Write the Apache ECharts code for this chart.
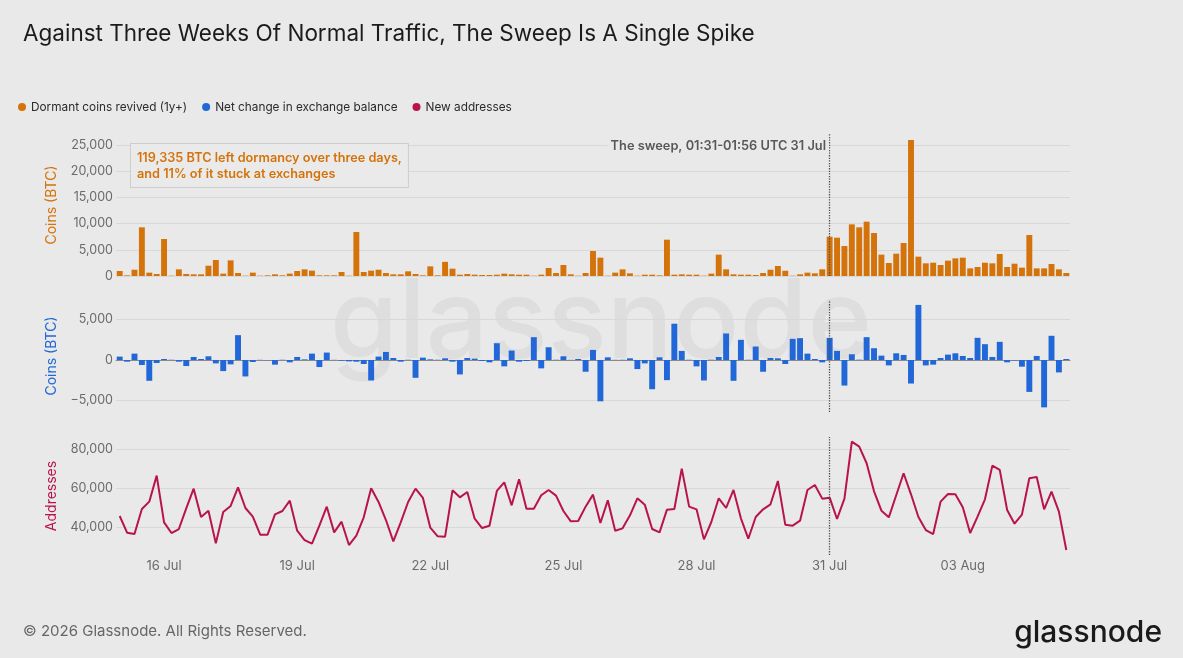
<!DOCTYPE html>
<html>
<head>
<meta charset="utf-8">
<title>Against Three Weeks Of Normal Traffic, The Sweep Is A Single Spike</title>
<script src="https://cdn.jsdelivr.net/npm/echarts@6/dist/echarts.min.js"></script>
<style>
    html, body { margin: 0; padding: 0; background: #e9e9e9; }
    #chart { width: 1183px; height: 658px; }
</style>
</head>
<body>
<div id="chart"></div>
<script>
    // 4-hour buckets, 15 Jul 00:00 UTC -> 05 Aug 08:00 UTC
    var dormant = [
        950, 130, 1200, 9290, 640, 380, 7060, 60, 1270, 380, 320, 320,
        1970, 3050, 450, 2990, 570, 60, 640, 60, 130, 320, 130, 450,
        950, 1270, 1020, 130, 130, 130, 760, 60, 8400, 760, 1020, 1200,
        570, 320, 320, 890, 380, 130, 1840, 130, 2700, 1400, 250, 380,
        250, 190, 190, 250, 450, 320, 250, 250, 60, 250, 1530, 570,
        2100, 320, 60, 570, 4770, 3500, 60, 640, 1270, 510, 60, 250,
        250, 130, 6930, 250, 320, 250, 250, 60, 450, 4070, 1270, 320,
        250, 250, 190, 570, 1200, 1910, 1000, 60, 320, 640, 510, 1270,
        7500, 7310, 5720, 9860, 9290, 10370, 8200, 4070, 2480, 4260, 6300, 25950,
        3690, 2420, 2540, 2100, 2930, 3370, 3500, 1460, 1720, 2540, 2420, 4200,
        1720, 2350, 1590, 7820, 1460, 1460, 2290, 1270, 570
    ];
    var netChange = [
        420, -210, 790, -625, -2580, -375, 125, 30, -210, -750, 375, 125,
        460, -420, -1375, -540, 3080, -2040, -250, 20, -20, -580, 30, -290,
        375, 80, 790, -875, 920, 20, -80, -170, -210, -500, -2540, 420,
        1000, 250, -210, 30, -2210, 290, 80, 30, 210, -210, -1790, 250,
        170, -125, -290, 2080, -790, 1170, -210, -125, 2830, -1040, 1580, 30,
        460, 20, 125, -1460, 1250, -5125, 330, 20, 30, 210, -1125, -420,
        -3625, 330, -2500, 4500, 1125, 30, -790, -2540, 40, 375, 3290, -2580,
        2500, 30, 1670, -1460, 250, 210, -500, 2625, 2710, 790, 125, -290,
        2750, 1125, -3170, 710, 40, 2830, 1460, 540, -670, 830, 625, -2920,
        6830, -670, -580, 250, 670, 830, 500, 250, 2750, 1960, 375, 2250,
        -290, -50, -830, -3960, 500, -5875, 3000, -1540, 125
    ];
    var newAddresses = [
        45660, 37080, 36390, 49270, 53040, 66440, 42400, 36900, 38960, 49610, 59740, 45140,
        48410, 31580, 47720, 50810, 60430, 49780, 45320, 36050, 36050, 46520, 48240, 53560,
        38100, 33300, 31410, 40680, 50470, 37250, 42740, 30720, 35530, 44970, 59910, 52870,
        43600, 32610, 42400, 52870, 59740, 54930, 39650, 35190, 35010, 58880, 55270, 58020,
        44290, 39480, 40680, 58540, 63000, 51150, 64550, 49440, 49440, 56310, 59050, 56130,
        48240, 42910, 43090, 50470, 56650, 42060, 53730, 38100, 39310, 46000, 54760, 51500,
        38960, 37250, 48920, 49270, 70040, 50470, 49100, 33640, 42570, 54760, 49780, 59050,
        44460, 33980, 45140, 49100, 51670, 63690, 41200, 40680, 43260, 59050, 61630, 54590,
        55100, 44120, 54590, 83950, 81370, 72790, 58370, 48410, 44970, 56310, 67640, 56820,
        45140, 38450, 36390, 53040, 57000, 56820, 50130, 36900, 45320, 54240, 71590, 69360,
        48760, 41710, 46350, 65060, 65750, 49100, 58200, 47890, 28150
    ];
    var tickLabels = ['16 Jul', '19 Jul', '22 Jul', '25 Jul', '28 Jul', '31 Jul', '03 Aug'];
    var sweepBucket = '31 Jul 00:00';

    var MONTHS = ['Jan', 'Feb', 'Mar', 'Apr', 'May', 'Jun', 'Jul', 'Aug', 'Sep', 'Oct', 'Nov', 'Dec'];
    function pad(n) { return n < 10 ? '0' + n : '' + n; }
    var categories = [];
    for (var i = 0; i < dormant.length; i++) {
        var d = new Date(Date.UTC(2025, 6, 15) + i * 4 * 3600 * 1000);
        categories.push(pad(d.getUTCDate()) + ' ' + MONTHS[d.getUTCMonth()] + ' ' + pad(d.getUTCHours()) + ':00');
    }

    var ORANGE = '#d5730b', BLUE = '#2167d8', CRIMSON = '#b8134c';
    var BG = '#e9e9e9';
    var FONT = 'Inter, "Noto Sans", sans-serif';

    function fmtNum(v) {
        var s = Math.abs(v).toString().replace(/\B(?=(\d{3})+(?!\d))/g, ',');
        return (v < 0 ? '\u2212' : '') + s;
    }

    function makeXAxis(idx, showLabels) {
        return {
            type: 'category',
            gridIndex: idx,
            data: categories,
            boundaryGap: true,
            axisLine: { show: idx === 1, onZero: true, lineStyle: { color: '#8a8a8a', width: 1 } },
            axisTick: { show: false },
            splitLine: { show: false },
            axisLabel: {
                show: showLabels,
                interval: function (index, value) {
                    return value.slice(7) === '00:00' && tickLabels.indexOf(value.slice(0, 6)) >= 0;
                },
                formatter: function (value) { return value.slice(0, 6); },
                color: '#6b6b6b',
                fontSize: 13,
                margin: 5
            }
        };
    }

    function makeYAxis(idx, name, color, min, max, step) {
        return {
            type: 'value',
            gridIndex: idx,
            min: min,
            max: max,
            minInterval: step,
            maxInterval: step,
            name: name,
            nameLocation: 'middle',
            nameGap: 57,
            nameTextStyle: { color: color, fontSize: 14 },
            axisLine: { show: false },
            axisTick: { show: false },
            axisLabel: {
                color: '#6b6b6b',
                fontSize: 12.5,
                margin: 3,
                showMinLabel: idx === 0,
                showMaxLabel: false,
                formatter: fmtNum
            },
            splitLine: {
                lineStyle: { color: '#d8d8d8', width: 1 },
                showMinLine: idx === 0,
                showMaxLine: false
            }
        };
    }

    var sweepLine = {
        silent: true,
        symbol: ['none', 'none'],
        label: { show: false },
        lineStyle: { color: '#4f4f4f', type: 'dotted', width: 1.3 },
        data: [{ xAxis: sweepBucket }]
    };

    var option = {
        backgroundColor: BG,
        animation: false,
        textStyle: { fontFamily: FONT },
        title: {
            text: 'Against Three Weeks Of Normal Traffic, The Sweep Is A Single Spike',
            left: 18,
            top: 18,
            textStyle: { fontSize: 22.5, fontWeight: 'normal', color: '#1b1b1b', fontFamily: FONT }
        },
        legend: {
            left: 13,
            top: 96,
            icon: 'circle',
            itemWidth: 8,
            itemHeight: 8,
            itemGap: 15,
            textStyle: { fontSize: 11.8, color: '#2b2b2b' },
            data: ['Dormant coins revived (1y+)', 'Net change in exchange balance', 'New addresses']
        },
        grid: [
            { left: 116, right: 113, top: 134, height: 142 },
            { left: 116, right: 113, top: 300, height: 112 },
            { left: 116, right: 113, top: 437, height: 118 }
        ],
        xAxis: [makeXAxis(0, false), makeXAxis(1, false), makeXAxis(2, true)],
        yAxis: [
            makeYAxis(0, 'Coins (BTC)', ORANGE, 0, 27100, 5000),
            makeYAxis(1, 'Coins (BTC)', BLUE, -6450, 7440, 5000),
            makeYAxis(2, 'Addresses', CRIMSON, 25600, 86300, 20000)
        ],
        series: [
            {
                name: 'Dormant coins revived (1y+)',
                type: 'bar',
                xAxisIndex: 0,
                yAxisIndex: 0,
                data: dormant,
                barWidth: '80%',
                itemStyle: { color: ORANGE },
                markLine: sweepLine
            },
            {
                name: 'Net change in exchange balance',
                type: 'bar',
                xAxisIndex: 1,
                yAxisIndex: 1,
                data: netChange,
                barWidth: '80%',
                itemStyle: { color: BLUE },
                markLine: sweepLine
            },
            {
                name: 'New addresses',
                type: 'line',
                xAxisIndex: 2,
                yAxisIndex: 2,
                data: newAddresses,
                symbol: 'none',
                itemStyle: { color: CRIMSON },
                lineStyle: { color: CRIMSON, width: 2 },
                markLine: sweepLine
            }
        ],
        graphic: [
            {
                // watermark
                type: 'text', x: 330, y: 325, z: -1,
                style: { text: 'glassnode', font: '500 110px ' + FONT, fill: '#dedede', align: 'left', verticalAlign: 'middle' }
            },
            {
                type: 'text', x: 131, y: 144, z: 100,
                style: {
                    text: '119,335 BTC left dormancy over three days,\nand 11% of it stuck at exchanges',
                    font: '600 12.7px ' + FONT,
                    lineHeight: 16,
                    fill: ORANGE,
                    backgroundColor: '#eaeaea',
                    borderColor: '#cdcdcd',
                    borderWidth: 1,
                    padding: [6, 6, 5, 6],
                    align: 'left',
                    verticalAlign: 'top'
                }
            },
            {
                type: 'text', x: 829, y: 146, z: 100,
                style: {
                    text: 'The sweep, 01:31-01:56 UTC 31 Jul', font: '600 12.8px ' + FONT, fill: '#585858',
                    backgroundColor: BG, padding: [2, 3, 2, 3],
                    align: 'right', verticalAlign: 'middle'
                }
            },
            {
                type: 'text', x: 23, y: 631, z: 100,
                style: { text: '\u00a9 2026 Glassnode. All Rights Reserved.', font: '15px ' + FONT, fill: '#666666', align: 'left', verticalAlign: 'middle' }
            },
            {
                type: 'text', x: 1162, y: 633, z: 100,
                style: { text: 'glassnode', font: '500 30px ' + FONT, fill: '#1a1a1a', align: 'right', verticalAlign: 'middle' }
            }
        ]
    };

    var myChart = echarts.init(document.getElementById('chart'));
    myChart.setOption(option);
</script>
</body>
</html>
